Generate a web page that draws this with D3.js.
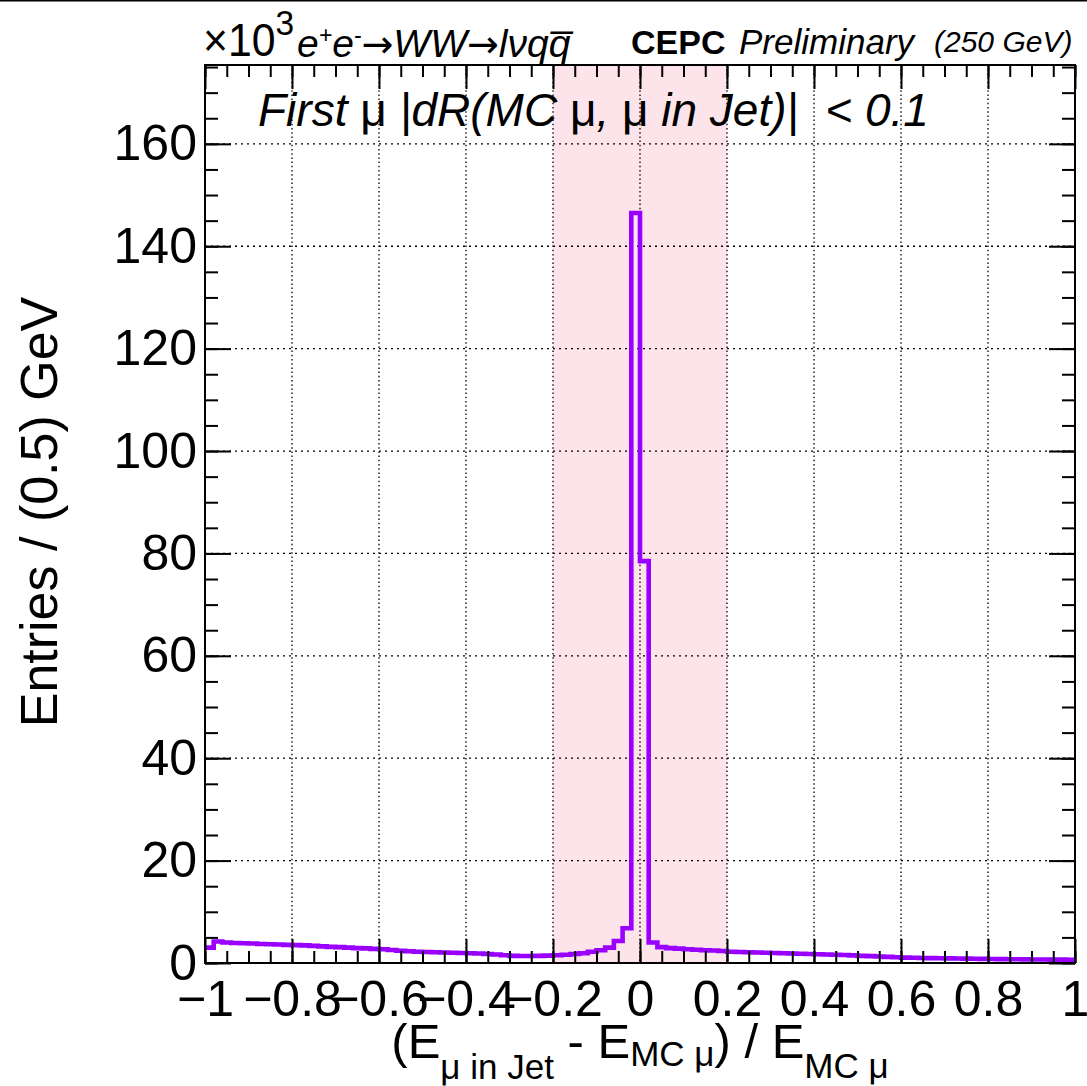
<!doctype html>
<html>
<head>
<meta charset="utf-8">
<title>First mu energy resolution (CEPC)</title>
<script src="https://d3js.org/d3.v7.min.js"></script>
<style>
  body { margin: 0; background: white; }
  svg text { font-family: "Liberation Sans", Arial, Helvetica, sans-serif; fill: black; }
</style>
</head>
<body>
<div id="plot"></div>
<script>
// histogram: 100 bins of 0.02 from -1 to 1, entries in units of 10^3
const binLow = -1, binWidth = 0.02;
const counts = [
  3.0, 4.2, 4.0, 3.9, 3.85, 3.8, 3.7, 3.65, 3.6, 3.55,
  3.5, 3.45, 3.35, 3.25, 3.15, 3.1, 3.0, 2.9, 2.85, 2.75,
  2.7, 2.55, 2.4, 2.3, 2.2, 2.15, 2.1, 2.05, 2.0, 1.95,
  1.9, 1.85, 1.75, 1.65, 1.5, 1.4, 1.37, 1.37, 1.4, 1.45,
  1.5, 1.6, 1.75, 1.9, 2.2, 2.5, 3.0, 4.3, 6.8, 146.5,
  78.5, 4.0, 3.1, 2.9, 2.8, 2.7, 2.6, 2.5, 2.45, 2.35,
  2.2, 2.15, 2.1, 2.05, 2.0, 1.95, 1.9, 1.85, 1.8, 1.75,
  1.7, 1.65, 1.6, 1.55, 1.48, 1.4, 1.35, 1.28, 1.2, 1.12,
  1.05, 1.02, 0.98, 0.95, 0.92, 0.9, 0.87, 0.85, 0.82, 0.8,
  0.78, 0.76, 0.74, 0.72, 0.7, 0.69, 0.68, 0.66, 0.65, 0.64
];
const xTicks = [-1, -0.8, -0.6, -0.4, -0.2, 0, 0.2, 0.4, 0.6, 0.8, 1];
const yTicks = [0, 20, 40, 60, 80, 100, 120, 140, 160];
const band = [-0.2, 0.2];
const yMax = 175.4;

const W = 1087, H = 1086;
const margin = {top: 65, right: 12, bottom: 123, left: 205};
const width = W - margin.left - margin.right,
      height = H - margin.top - margin.bottom;

const svg = d3.select("#plot").append("svg")
  .attr("width", W).attr("height", H);

// thin line along the very top of the canvas
svg.append("line").attr("x1", 0).attr("x2", W).attr("y1", 0.75).attr("y2", 0.75)
  .attr("stroke", "black").attr("stroke-width", 1.5);

const g = svg.append("g").attr("transform", `translate(${margin.left},${margin.top})`);

const x = d3.scaleLinear().domain([-1, 1]).range([0, width]);
const y = d3.scaleLinear().domain([0, yMax]).range([height, 0]);

// signal window
g.append("rect")
  .attr("x", x(band[0])).attr("y", 0)
  .attr("width", x(band[1]) - x(band[0])).attr("height", height)
  .attr("fill", "#fde3ea");

// dotted grid
g.selectAll(".gx").data(xTicks.slice(1, -1)).enter().append("line")
  .attr("x1", d => x(d)).attr("x2", d => x(d)).attr("y1", 0).attr("y2", height)
  .attr("stroke", "black").attr("stroke-width", 1.3).attr("stroke-dasharray", "1.5,2.7");
g.selectAll(".gy").data(yTicks.slice(1)).enter().append("line")
  .attr("x1", 0).attr("x2", width).attr("y1", d => y(d)).attr("y2", d => y(d))
  .attr("stroke", "black").attr("stroke-width", 1.3).attr("stroke-dasharray", "2,4");

// histogram outline
const pts = counts.map((c, i) => [binLow + i * binWidth, c]);
pts.push([binLow + counts.length * binWidth, counts[counts.length - 1]]);
const line = d3.line().x(d => x(d[0])).y(d => y(d[1])).curve(d3.curveStepAfter);
g.append("path").datum(pts)
  .attr("d", line)
  .attr("fill", "none").attr("stroke", "#9900ff").attr("stroke-width", 4.6)
  .attr("stroke-linejoin", "miter");

// axes, ticks inside the frame
const fmt = d3.format("~g");
const minorX = d3.range(-1, 1.0001, 0.05).map(v => +v.toFixed(2));
const minorY = d3.range(0, yMax, 5);

function styleAxis(sel) {
  sel.select(".domain").remove();
  sel.selectAll("line").attr("stroke", "black").attr("stroke-width", 2);
}

g.append("g").attr("transform", `translate(0,${height})`)
  .call(d3.axisBottom(x).tickValues(minorX).tickSize(-12).tickFormat(""))
  .call(styleAxis);
g.append("g").attr("transform", `translate(0,${height})`)
  .call(d3.axisBottom(x).tickValues(xTicks).tickSize(-24).tickPadding(17).tickFormat(fmt))
  .call(styleAxis)
  .selectAll("text").style("font-size", "50px");
g.append("g")
  .call(d3.axisTop(x).tickValues(minorX).tickSize(-12).tickFormat(""))
  .call(styleAxis);
g.append("g")
  .call(d3.axisTop(x).tickValues(xTicks).tickSize(-24).tickFormat(""))
  .call(styleAxis);

g.append("g")
  .call(d3.axisLeft(y).tickValues(minorY).tickSize(-13).tickFormat(""))
  .call(styleAxis);
g.append("g")
  .call(d3.axisLeft(y).tickValues(yTicks).tickSize(-26).tickPadding(8).tickFormat(fmt))
  .call(styleAxis)
  .selectAll("text").style("font-size", "50px");
g.append("g").attr("transform", `translate(${width},0)`)
  .call(d3.axisRight(y).tickValues(minorY).tickSize(-13).tickFormat(""))
  .call(styleAxis);
g.append("g").attr("transform", `translate(${width},0)`)
  .call(d3.axisRight(y).tickValues(yTicks).tickSize(-26).tickFormat(""))
  .call(styleAxis);

// frame
g.append("rect").attr("x", 0).attr("y", 0).attr("width", width).attr("height", height)
  .attr("fill", "none").attr("stroke", "black").attr("stroke-width", 2);

// y title
svg.append("text")
  .attr("transform", "translate(57,512) rotate(-90)")
  .attr("text-anchor", "middle")
  .style("font-size", "52px")
  .text("Entries / (0.5) GeV");

// x title
const xt = svg.append("text")
  .attr("x", x(0) + margin.left).attr("y", 1058)
  .attr("text-anchor", "middle")
  .style("font-size", "49px");
xt.append("tspan").text("(E");
xt.append("tspan").attr("dy", 21).style("font-size", "35px").text("\u03bc in Jet");
xt.append("tspan").attr("dy", -21).text(" - E");
xt.append("tspan").attr("dy", 8).style("font-size", "35px").text("MC \u03bc");
xt.append("tspan").attr("dy", -8).text(") / E");
xt.append("tspan").attr("dy", 20).style("font-size", "35px").text("MC \u03bc");

// exponent and process label
const ex = svg.append("text").attr("transform", "translate(203,56) scale(0.93,1)")
  .style("font-size", "46px");
ex.append("tspan").text("\u00d710");
ex.append("tspan").attr("dy", -21).style("font-size", "36px").text("3");

const pr = svg.append("text").attr("x", 297).attr("y", 57)
  .style("font-size", "39px").style("font-style", "italic");
pr.append("tspan").text("e");
pr.append("tspan").attr("dy", -14).style("font-size", "23px").text("+");
pr.append("tspan").attr("dy", 14).text("e");
pr.append("tspan").attr("dy", -14).style("font-size", "23px").text("-");
pr.append("tspan").attr("dy", 14).style("font-style", "normal")
  .style("font-family", "DejaVu Sans").style("font-size", "38px").text("\u2192");
pr.append("tspan").text("WW");
pr.append("tspan").style("font-style", "normal")
  .style("font-family", "DejaVu Sans").style("font-size", "38px").text("\u2192");
pr.append("tspan").text("l\u03bdq");
pr.append("tspan").text("q\u0305");

svg.append("text").attr("x", 631).attr("y", 54)
  .style("font-size", "34px").style("font-weight", "bold").text("CEPC");
svg.append("text").attr("x", 739).attr("y", 54)
  .style("font-size", "35px").style("font-style", "italic").text("Preliminary");
svg.append("text").attr("x", 934).attr("y", 52)
  .style("font-size", "30px").style("font-style", "italic").text("(250 GeV)");

// selection label
const sl = svg.append("text").attr("x", 258).attr("y", 126)
  .style("font-size", "46px").style("font-style", "italic");
sl.append("tspan").text("First ");
sl.append("tspan").style("font-style", "normal").text("\u03bc");
sl.append("tspan").text(" |dR(MC ");
sl.append("tspan").style("font-style", "normal").text("\u03bc");
sl.append("tspan").text(", ");
sl.append("tspan").style("font-style", "normal").text("\u03bc");
sl.append("tspan").text(" in Jet)|");
sl.append("tspan").attr("dx", 14).text(" < 0.1");
</script>
</body>
</html>
